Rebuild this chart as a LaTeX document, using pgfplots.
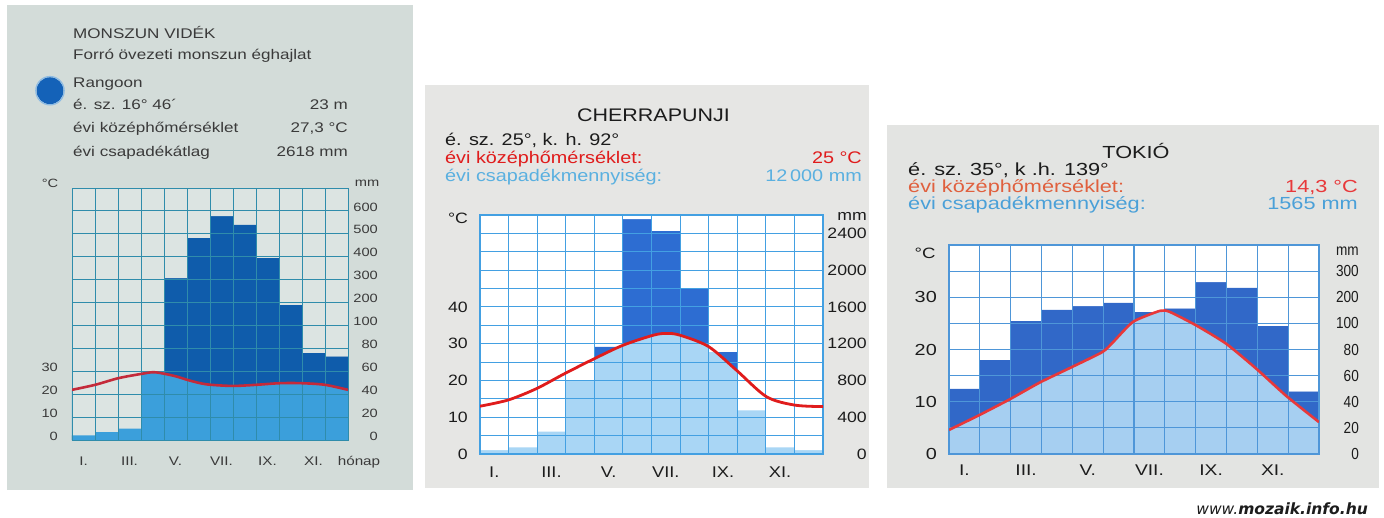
\documentclass[border=0pt]{standalone}
\usepackage{pgfplots}
\pgfplotsset{compat=1.18}
\usepackage{pgfplotstable}
\usepackage{fontspec}
\setmainfont{Liberation Sans}
\newfontfamily\fa{Liberation Sans}[FakeStretch=1.22]
\newfontfamily\fb{Liberation Sans}[FakeStretch=1.18]
\newfontfamily\fc{Liberation Sans}[FakeStretch=1.24]
\newfontfamily\fcn{Liberation Sans}[FakeStretch=0.85]
\newfontfamily\fd{DejaVu Sans}
\newcommand\fs[2]{\fontsize{#1}{#2}\selectfont}

\definecolor{p1bg}{HTML}{D3DCD9}
\definecolor{p1plot}{HTML}{DCE4E2}
\definecolor{p1grid}{HTML}{2F8CAB}
\definecolor{p1dark}{HTML}{0F5CAB}
\definecolor{p1light}{HTML}{3B9FDB}
\definecolor{p1red}{HTML}{C42A3A}
\definecolor{p1text}{HTML}{3A3A3A}
\definecolor{p1circ}{HTML}{1462B8}
\definecolor{p1halo}{HTML}{8DBBE3}
\definecolor{p2bg}{HTML}{E6E6E4}
\definecolor{p2grid}{HTML}{43A0E2}
\definecolor{p2dark}{HTML}{2D6DD2}
\definecolor{p2light}{HTML}{A9D6F5}
\definecolor{p2red}{HTML}{E01C1C}
\definecolor{p2blue}{HTML}{5AB0E0}
\definecolor{p3bg}{HTML}{E3E4E2}
\definecolor{p3grid}{HTML}{4E96D8}
\definecolor{p3dark}{HTML}{3168C8}
\definecolor{p3light}{HTML}{A6CFF1}
\definecolor{p3red}{HTML}{E8383A}
\definecolor{p3orange}{HTML}{E0603E}
\definecolor{p3blue}{HTML}{4AA0D8}
\definecolor{txt}{HTML}{1C1C1C}

% Rangoon: precipitation (mm) per month (m = 0..11), temperature curve (x in months, deg C)
\pgfplotstableread{
m p
0 4
1 7
2 10
3 59
4 307
5 482
6 577
7 540
8 395
9 190
10 76
11 73
}\rgP
\pgfplotstableread{
x t
0 21.9
1.01 24.1
2.02 27.0
3.04 28.9
3.54 29.6
4.02 28.9
4.55 27.7
5.03 26.2
5.57 24.8
6.04 24.1
7.01 23.6
8.02 24.1
9.04 24.8
9.98 24.8
10.99 24.1
12 21.9
}\rgT
% Cherrapunji
\pgfplotstableread{
m p
0 43
1 72
2 243
3 797
4 1167
5 2554
6 2428
7 1801
8 1112
9 475
10 72
11 43
}\chP
\pgfplotstableread{
x t
0 13.0
0.99 14.7
1.98 17.8
2.97 21.9
4.02 26.0
5.01 29.6
6.06 32.3
6.53 32.8
7.0 32.3
8.0 29.2
8.97 22.8
10.02 15.6
11.01 13.3
12 12.9
}\chT
% Tokyo
\pgfplotstableread{
m p
0 50
1 72
2 110
3 153
4 166
5 179
6 144
7 157
8 258
9 237
10 98
11 48
}\tkP
\pgfplotstableread{
x t
0 4.6
1.0 7.5
1.98 10.5
2.95 13.7
3.97 16.6
4.97 19.5
5.32 21.4
5.97 25.3
6.84 27.4
7.16 27.2
8.02 24.6
8.99 21.1
9.97 16.3
10.94 11.1
12 6.1
}\tkT

\pgfplotsset{
  base/.style={scale only axis, anchor=south west, xmin=0, xmax=12,
    major tick length=0pt, minor tick length=0pt},
  bars/.style={ybar, bar width=1, bar shift=0pt, draw=none},
  gridaxis/.style={y dir=reverse, axis on top, xtick={0,...,12},
    xticklabels={}, yticklabels={}, grid=major},
}

\begin{document}
\begin{tikzpicture}[x=1pt,y=1pt]
\fill[white] (0,0) rectangle (1384,-517);
\useasboundingbox (0,0) rectangle (1384,-517);

% ---------------- Panel 1: Rangoon ----------------
\fill[p1bg] (7,-5) rectangle (413,-490);
\begin{scope}[every node/.style={inner sep=0pt, text=p1text, font=\fa\fs{14}{17}}]
\node[anchor=base west] at (73,-38.3) {MONSZUN VIDÉK};
\node[anchor=base west] at (73,-59.5) {Forró övezeti monszun éghajlat};
\node[anchor=base west] at (73,-87.3) {Rangoon};
\node[anchor=base west] at (73,-109) {é. sz. 16° 46´};
\node[anchor=base east] at (348,-109) {23 m};
\node[anchor=base west] at (73,-132.7) {évi középhőmérséklet};
\node[anchor=base east] at (348,-132.7) {27,3 °C};
\node[anchor=base west] at (73,-156.7) {évi csapadékátlag};
\node[anchor=base east] at (348,-156.7) {2618 mm};
\node[font=\fa\fs{12}{14}] at (50,-183) {°C};
\node[font=\fa\fs{12}{14}] at (367,-183) {mm};
\node[anchor=base, font=\fa\fs{12.5}{14}] at (359,-465) {hónap};
\end{scope}
\fill[p1circ] (50,-90.7) circle (13.5);
\draw[p1halo, line width=1.2] (50,-90.7) circle (14.2);

\begin{axis}[base, at={(72pt,-440pt)}, width=276pt, height=252pt, ymin=0, ymax=11,
  axis line style={draw=none}, axis background/.style={fill=p1plot},
  xtick={0.5,2.5,4.5,6.5,8.5,10.5}, xticklabels={I.,III.,V.,VII.,IX.,XI.},
  ytick={0,1,2,3}, yticklabels={0,10,20,30},
  xticklabel style={font=\fa\fs{12.5}{14}, text=p1text, anchor=base, inner sep=0pt, yshift=-25pt},
  yticklabel style={font=\fa\fs{12}{14}, text=p1text, anchor=east, inner sep=0pt, xshift=-14pt, yshift=4pt}]
\addplot[bars, fill=p1dark] table[x expr=\thisrow{m}+0.5,
  y expr={((\thisrow{p}<100.5) ? (\thisrow{p}/20) : (5+(\thisrow{p}-100)/100))}] {\rgP};
\addplot[fill=p1light, draw=none, smooth] table[x=x, y expr=\thisrow{t}/10] {\rgT} \closedcycle;
\end{axis}
\begin{axis}[base, gridaxis, at={(72pt,-440pt)}, width=276pt, height=252pt, ymin=0, ymax=11,
  ytick={0,...,11},
  axis line style={draw=p1grid, line width=1pt},
  major grid style={draw=p1grid, line width=1pt}]
\addplot[bars, fill=p1plot] table[x expr=\thisrow{m}+0.5,
  y expr={11-((\thisrow{p}<100.5) ? (\thisrow{p}/20) : (5+(\thisrow{p}-100)/100))}] {\rgP};
\end{axis}
\begin{axis}[base, at={(72pt,-440pt)}, width=276pt, height=252pt, ymin=0, ymax=11,
  hide x axis, axis y line*=right, y axis line style={draw=none},
  ytick={0,...,10}, yticklabels={0,20,40,60,80,100,200,300,400,500,600},
  yticklabel style={font=\fa\fs{12}{14}, text=p1text, anchor=east, inner sep=0pt, xshift=30pt, yshift=4pt}]
\addplot[p1red, line width=2.6pt, smooth] table[x=x, y expr=\thisrow{t}/10] {\rgT};
\end{axis}

% ---------------- Panel 2: Cherrapunji ----------------
\fill[p2bg] (425,-85) rectangle (869,-488);
\begin{scope}[every node/.style={inner sep=0pt, text=txt, font=\fb\fs{16.8}{19}}]
\node[anchor=base, font=\fb\fs{18.2}{21}] at (653.5,-121.7) {CHERRAPUNJI};
\node[anchor=base west] at (445,-145) {é. sz. 25°, k. h. 92°};
\node[anchor=base west, text=p2red] at (445,-163.3) {évi középhőmérséklet:};
\node[anchor=base east, text=p2red] at (862,-163.3) {25 °C};
\node[anchor=base west, text=p2blue] at (445,-181.7) {évi csapadékmennyiség:};
\node[anchor=base east, text=p2blue] at (862,-181.7) {12\,000 mm};
\node[font=\fb\fs{15}{17}] at (458,-218) {°C};
\node[anchor=east, font=\fb\fs{15}{17}] at (867,-216) {mm};
\end{scope}
\begin{axis}[base, at={(480pt,-454pt)}, width=343pt, height=239pt, ymin=0, ymax=13,
  axis line style={draw=none}, axis background/.style={fill=white},
  xtick={0.5,2.5,4.5,6.5,8.5,10.5}, xticklabels={I.,III.,V.,VII.,IX.,XI.},
  ytick={0,2,4,6,8}, yticklabels={0,10,20,30,40},
  xticklabel style={font=\fb\fs{15.5}{18}, text=txt, anchor=base, inner sep=0pt, yshift=-23pt},
  yticklabel style={font=\fb\fs{15}{17}, text=txt, anchor=east, inner sep=0pt, xshift=-12pt}]
\addplot[bars, fill=p2dark] table[x expr=\thisrow{m}+0.5, y expr=\thisrow{p}/200] {\chP};
\addplot[fill=p2light, draw=none, smooth] table[x=x, y expr=\thisrow{t}/5] {\chT} \closedcycle;
\end{axis}
\begin{axis}[base, gridaxis, at={(480pt,-454pt)}, width=343pt, height=239pt, ymin=0, ymax=13,
  ytick={0,...,13},
  axis line style={draw=p2grid, line width=1.6pt},
  major grid style={draw=p2grid, line width=1.1pt}]
\addplot[bars, fill=white] table[x expr=\thisrow{m}+0.5, y expr={13-\thisrow{p}/200}] {\chP};
\end{axis}
\begin{axis}[base, at={(480pt,-454pt)}, width=343pt, height=239pt, ymin=0, ymax=13,
  hide x axis, axis y line*=right, y axis line style={draw=none},
  ytick={0,2,...,12}, yticklabels={0,400,800,1200,1600,2000,2400},
  yticklabel style={font=\fb\fs{15}{17}, text=txt, anchor=east, inner sep=0pt, xshift=44pt}]
\addplot[p2red, line width=2.8pt, smooth] table[x=x, y expr=\thisrow{t}/5] {\chT};
\end{axis}

% ---------------- Panel 3: Tokyo ----------------
\fill[p3bg] (887,-125) rectangle (1379,-488);
\begin{scope}[every node/.style={inner sep=0pt, text=txt, font=\fc\fs{17.5}{19}}]
\node[anchor=base] at (1136,-158.3) {TOKIÓ};
\node[anchor=base west] at (908,-175) {é. sz. 35°, k .h. 139°};
\node[anchor=base west, text=p3orange] at (908,-192.7) {évi középhőmérséklet:};
\node[anchor=base east, text=p3red] at (1358,-192.7) {14,3 °C};
\node[anchor=base west, text=p3blue] at (908,-209.3) {évi csapadékmennyiség:};
\node[anchor=base east, text=p3blue] at (1358,-209.3) {1565 mm};
\node[font=\fc\fs{15}{18}] at (925,-253) {°C};
\node[anchor=east, font=\fcn\fs{16}{18}] at (1359,-251) {mm};
\end{scope}
\begin{axis}[base, at={(949pt,-454pt)}, width=370pt, height=209pt, ymin=0, ymax=8,
  axis line style={draw=none}, axis background/.style={fill=white},
  xtick={0.5,2.5,4.5,6.5,8.5,10.5}, xticklabels={I.,III.,V.,VII.,IX.,XI.},
  ytick={0,2,4,6}, yticklabels={0,10,20,30},
  xticklabel style={font=\fc\fs{15.5}{18}, text=txt, anchor=base, inner sep=0pt, yshift=-21pt},
  yticklabel style={font=\fc\fs{16}{18}, text=txt, anchor=east, inner sep=0pt, xshift=-12pt}]
\addplot[bars, fill=p3dark] table[x expr=\thisrow{m}+0.5,
  y expr={((\thisrow{p}<100.5) ? (\thisrow{p}/20) : (5+(\thisrow{p}-100)/100))}] {\tkP};
\addplot[fill=p3light, draw=none, smooth, tension=0.35] table[x=x, y expr=\thisrow{t}/5] {\tkT} \closedcycle;
\end{axis}
\begin{axis}[base, gridaxis, at={(949pt,-454pt)}, width=370pt, height=209pt, ymin=0, ymax=8,
  ytick={0,...,8},
  axis line style={draw=p3grid, line width=1.4pt},
  major grid style={draw=p3grid, line width=1.1pt}]
\addplot[bars, fill=white] table[x expr=\thisrow{m}+0.5,
  y expr={8-((\thisrow{p}<100.5) ? (\thisrow{p}/20) : (5+(\thisrow{p}-100)/100))}] {\tkP};
\end{axis}
\begin{axis}[base, at={(949pt,-454pt)}, width=370pt, height=209pt, ymin=0, ymax=8,
  hide x axis, axis y line*=right, y axis line style={draw=none},
  ytick={0,...,7}, yticklabels={0,20,40,60,80,100,200,300},
  yticklabel style={font=\fcn\fs{16}{18}, text=txt, anchor=east, inner sep=0pt, xshift=40pt}]
\addplot[p3red, line width=2.6pt, smooth, tension=0.35] table[x=x, y expr=\thisrow{t}/5] {\tkT};
\end{axis}

% footer
\node[anchor=base east, inner sep=0pt, text=txt, font=\fd\fs{15.5}{18}] at (1368,-514)
  {\itshape www.\bfseries mozaik.info.hu};
\end{tikzpicture}
\end{document}
